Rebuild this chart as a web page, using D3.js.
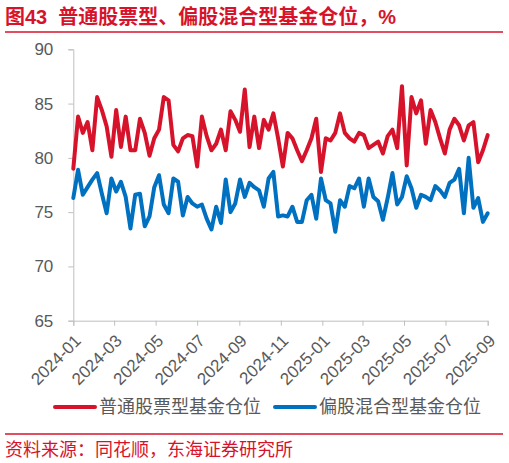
<!DOCTYPE html>
<html>
<head>
<meta charset="utf-8">
<script src="https://cdn.jsdelivr.net/npm/d3@7"></script>
<style>
  body { margin: 0; background: #fff; }
  text { font-family: "Liberation Sans", "Noto Sans CJK SC", sans-serif; }
</style>
</head>
<body>
<svg id="chart" width="509" height="463"></svg>
<script>

var titleText  = "图43  普通股票型、偏股混合型基金仓位，%";
var sourceText = "资料来源：同花顺，东海证券研究所";
var seriesNames = ["普通股票型基金仓位", "偏股混合型基金仓位"];
var seriesColors = ["#d7132b", "#0070c0"];

var yTicks = [65, 70, 75, 80, 85, 90];

// weekly observations, first Monday of 2024 to 2025-09-01
var weeks = d3.timeMonday.range(new Date(2024, 0, 1), new Date(2025, 8, 2));

var stockFund = [
  79.0, 83.8, 82.3, 83.3, 80.7, 85.6, 84.4, 82.9, 80.1, 84.4,
  81.0, 83.8, 80.7, 80.7, 83.6, 82.3, 80.2, 81.8, 82.6, 85.6,
  85.3, 81.2, 80.6, 81.8, 82.1, 82.0, 79.2, 83.8, 82.0, 80.7,
  81.3, 82.6, 80.7, 84.3, 83.5, 82.4, 86.3, 81.0, 83.8, 80.9,
  83.5, 82.6, 84.1, 81.8, 79.2, 82.3, 81.8, 80.7, 79.7, 80.7,
  81.8, 83.6, 78.7, 81.8, 81.6, 82.3, 84.1, 82.3, 81.8, 81.5,
  82.3, 82.1, 80.9, 81.2, 81.5, 80.4, 82.0, 82.6, 80.9, 86.6,
  79.3, 85.6, 84.1, 85.3, 81.3, 84.4, 83.3, 81.8, 80.4, 82.6,
  83.6, 83.0, 81.6, 83.0, 83.3, 79.6, 80.7, 82.1
];

var mixedFund = [
  76.3, 78.9, 76.6, 77.3, 78.0, 78.6, 76.7, 74.9, 78.1, 76.9,
  77.8, 76.4, 73.5, 76.6, 76.7, 73.7, 74.6, 77.3, 78.4, 75.7,
  74.9, 78.1, 77.8, 74.7, 76.4, 75.8, 75.5, 75.7, 74.4, 73.4,
  75.5, 74.0, 78.0, 75.0, 75.8, 78.0, 76.4, 77.7, 77.3, 77.0,
  75.5, 78.1, 78.7, 74.6, 74.7, 74.6, 75.5, 74.1, 74.1, 76.1,
  76.6, 74.4, 78.1, 76.1, 75.8, 73.2, 76.1, 75.5, 77.4, 77.2,
  78.1, 75.5, 78.1, 76.4, 76.0, 74.3, 76.3, 78.6, 75.7, 76.4,
  78.3, 77.2, 75.4, 76.6, 76.4, 76.1, 77.4, 77.0, 76.4, 77.7,
  78.0, 79.0, 74.9, 80.0, 75.4, 76.3, 74.1, 74.9
];


function drawChart()
{
  var svg = d3.select("#chart");
  var red = seriesColors[0];

  var xScale = d3.scaleTime()
    .domain([new Date(2024, 0, 1), new Date(2025, 8, 1)])
    .range([73.3, 487.7]);

  var yScale = d3.scaleLinear()
    .domain([65, 90])
    .range([320.7, 49.3]);

  /* title and rules */
  svg.append("text")
     .attr("x", 5)
     .attr("y", 24)
     .attr("fill", red)
     .attr("font-size", "20px")
     .attr("font-weight", "bold")
     .style("white-space", "pre")
     .text(titleText);

  svg.append("line")
     .attr("x1", 5).attr("x2", 503)
     .attr("y1", 32).attr("y2", 32)
     .attr("stroke", red)
     .attr("stroke-width", 1.5);

  svg.append("line")
     .attr("x1", 5).attr("x2", 503)
     .attr("y1", 434).attr("y2", 434)
     .attr("stroke", red)
     .attr("stroke-width", 1.5);

  svg.append("text")
     .attr("x", 5)
     .attr("y", 456)
     .attr("fill", red)
     .attr("font-size", "18px")
     .text(sourceText);

  /* axes */
  var yAxis = svg.append("g")
     .attr("class", "yAxis")
     .attr("transform", "translate(73.3,0)")
     .call(d3.axisLeft(yScale).tickValues(yTicks).tickSize(5).tickPadding(15));

  var xAxis = svg.append("g")
     .attr("class", "xAxis")
     .attr("transform", "translate(0,320.7)")
     .call(d3.axisBottom(xScale)
       .ticks(d3.timeMonth.every(2))
       .tickFormat(d3.timeFormat("%Y-%m"))
       .tickSize(5));

  svg.selectAll(".xAxis path, .xAxis line, .yAxis path, .yAxis line")
     .attr("stroke", "#bfbfbf");

  svg.selectAll(".xAxis text, .yAxis text")
     .attr("fill", "#595959")
     .attr("font-size", "17px")
     .attr("font-family", "Liberation Sans, sans-serif");

  xAxis.selectAll("text")
     .attr("text-anchor", "end")
     .attr("y", 0)
     .attr("dy", "0.35em")
     .attr("transform", "translate(4,17) rotate(-45)");

  /* series */
  var allSeries = [stockFund, mixedFund];

  var line = d3.line()
     .x(function(d, i) { return xScale(weeks[i]); })
     .y(function(d) { return yScale(d); });

  allSeries.forEach(function(values, k) {
    svg.append("path")
       .datum(values)
       .attr("class", "line")
       .attr("fill", "none")
       .attr("stroke", seriesColors[k])
       .attr("stroke-width", 4)
       .attr("stroke-linejoin", "round")
       .attr("stroke-linecap", "round")
       .attr("d", line);
  });

  /* legend */
  var legend = svg.append("g")
     .attr("class", "legend")
     .attr("transform", "translate(0,407)");

  var legendX = [55, 275];

  seriesNames.forEach(function(name, k) {
    legend.append("line")
       .attr("x1", legendX[k]).attr("x2", legendX[k] + 40)
       .attr("y1", 0).attr("y2", 0)
       .attr("stroke", seriesColors[k])
       .attr("stroke-width", 4)
       .attr("stroke-linecap", "round");

    legend.append("text")
       .attr("x", legendX[k] + 44)
       .attr("y", 0)
       .attr("dy", "0.35em")
       .attr("fill", "#595959")
       .attr("font-size", "18px")
       .text(name);
  });
}

drawChart();
</script>
</body>
</html>
